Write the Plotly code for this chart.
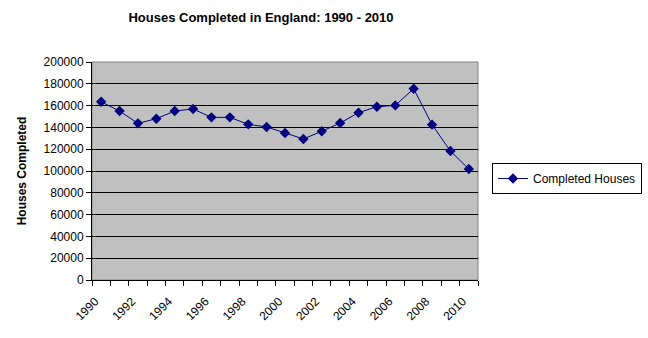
import plotly.graph_objects as go

years = list(range(1990, 2011))
completed = [163500, 155000, 143700, 148000, 155000, 156900, 149200, 149200,
             142800, 140400, 134900, 129400, 136400, 144000, 153500, 159000,
             160200, 175500, 142500, 118300, 101800]
label_years = list(range(1990, 2011, 2))
y_ticks = list(range(0, 200001, 20000))

FONT = "Liberation Sans, Arial, sans-serif"

fig = go.Figure()
fig.add_trace(go.Scatter(
    x=years, y=completed, mode="lines+markers", name="Completed Houses",
    line=dict(color="#000080", width=1),
    marker=dict(symbol="diamond", size=8, color="#000080"),
))
# invisible trace on second x axis to carry labels
fig.add_trace(go.Scatter(x=years, y=completed, xaxis="x2", mode="none",
                         showlegend=False, hoverinfo="skip"))

fig.update_layout(
    width=648, height=338,
    margin=dict(l=92, r=170, t=62, b=58, autoexpand=False),
    paper_bgcolor="white", plot_bgcolor="#C0C0C0",
    font=dict(family=FONT, size=12, color="black"),
    title=dict(text="<b>Houses Completed in England: 1990 - 2010</b>",
               x=261/648, xref="container", xanchor="center",
               y=1-17/338, yref="container", yanchor="middle",
               font=dict(size=13, family=FONT, color="black")),
    xaxis=dict(range=[1989.5, 2010.5],
               tickvals=[y - 0.5 for y in years] + [2010.5],
               showticklabels=False, ticks="outside", ticklen=5,
               tickcolor="black", showgrid=False, zeroline=False,
               showline=True, linecolor="black", linewidth=1, mirror=False),
    xaxis2=dict(range=[1989.5, 2010.5], overlaying="x", side="bottom",
                tickvals=label_years, ticktext=[str(y) for y in label_years],
                tickangle=-45, ticks="", showgrid=False, zeroline=False,
                ticklabelstandoff=11, ticklabelshift=-6,
                showline=False, tickfont=dict(size=12, family=FONT, color="black")),
    yaxis=dict(range=[0, 200000], tickvals=y_ticks, tickformat="d",
               ticks="outside", ticklen=5, tickcolor="black",
               showgrid=True, gridcolor="black", gridwidth=1,
               zeroline=False, showline=True, linecolor="black", linewidth=1,
               tickfont=dict(size=12, family=FONT, color="black"),
               title=dict(text="<b>Houses Completed</b>", standoff=14,
                          font=dict(size=12, family=FONT, color="black"))),
    legend=dict(x=(492-92)/386, y=(280-163)/218, xanchor="left", yanchor="top",
                bordercolor="black", borderwidth=1, bgcolor="white",
                font=dict(size=12, family=FONT, color="black")),
    showlegend=True,
)
# plot area border (gray)
fig.add_shape(type="rect", xref="paper", yref="paper", x0=0, y0=0, x1=1, y1=1,
              line=dict(color="#808080", width=1), layer="below")

fig.write_html("out.html")
